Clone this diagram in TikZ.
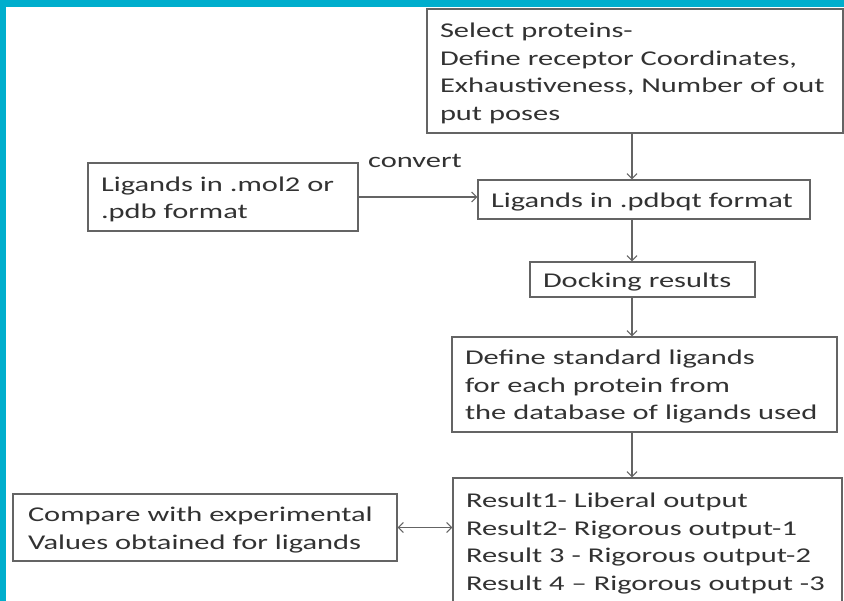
\documentclass[tikz,border=0pt]{standalone}
\usepackage{fontspec}
\setmainfont{Carlito}[FakeStretch=1.45]
\usetikzlibrary{arrows.meta}
\definecolor{band}{RGB}{0,174,205}
\definecolor{ink}{RGB}{50,50,50}
\definecolor{edge}{RGB}{100,100,100}
\tikzset{
  box/.style={draw=edge, line width=1.3pt, text=ink, align=left, inner xsep=13pt, inner ysep=0pt,
    font=\fontsize{21}{27.5}\selectfont, execute at begin node={\rule{0pt}{19.5pt}}},
  arr/.style={draw=edge, line width=1.1pt, -{Straight Barb[length=5pt,width=10pt]}},
  lbl/.style={text=ink, font=\fontsize{21}{27.5}\selectfont, inner sep=0pt}
}
\begin{document}
\begin{tikzpicture}[x=1pt,y=-1pt]
\useasboundingbox (0,0) rectangle (844,601);
\clip (0,0) rectangle (844,601);
\fill[white] (0,0) rectangle (844,601);
\fill[band] (0,0) rectangle (844,7);
\fill[band] (0,0) rectangle (6,601);

\node[box, text width=390pt, minimum height=124pt] (sel) at (635,71)
  {Select proteins-\\Define receptor Coordinates,\\Exhaustiveness, Number of out\\put poses};
\node[box, text width=244pt, minimum height=68pt] (mol) at (223,197)
  {Ligands in .mol2 or\\.pdb format};
\node[box, text width=306pt, minimum height=39pt] (pdb) at (644,199.5)
  {Ligands in .pdbqt format};
\node[box, text width=199pt, minimum height=35pt] (dock) at (642.5,279.5)
  {Docking results};
\node[box, text width=359pt, minimum height=95pt] (def) at (644.5,384.5)
  {Define standard ligands\\for each protein from\\the database of ligands used};
\node[box, text width=363pt, minimum height=126pt] (res) at (647.5,541)
  {Result1- Liberal output\\Result2- Rigorous output-1\\Result 3 - Rigorous output-2\\Result 4 -- Rigorous output -3};
\node[box, inner xsep=15pt, text width=354pt, minimum height=67pt] (cmp) at (205,527.5)
  {Compare with experimental\\Values obtained for ligands};
\node[lbl, anchor=base west] (conv) at (368,168) {convert};

\coordinate (ax) at (632,0);
\draw[arr] (sel.south -| ax) -- (pdb.north -| ax);
\draw[arr] (mol.east) -- (mol.east -| pdb.west);
\draw[arr] (pdb.south -| ax) -- (dock.north -| ax);
\draw[arr] (dock.south -| ax) -- (def.north -| ax);
\draw[arr] (def.south -| ax) -- (res.north -| ax);
\draw[arr, {Straight Barb[length=5pt,width=10pt]}-{Straight Barb[length=5pt,width=10pt]}] (cmp.east) -- (cmp.east -| res.west);
\end{tikzpicture}
\end{document}
